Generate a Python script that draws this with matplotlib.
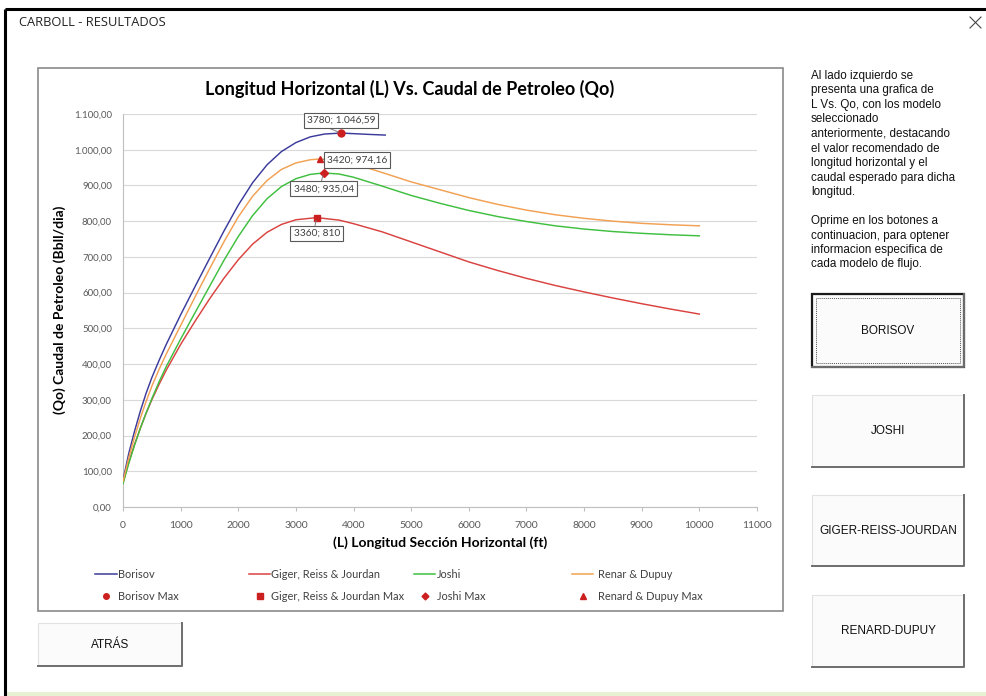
import numpy as np
import matplotlib.pyplot as plt
from matplotlib.patches import Rectangle

W, H = 986, 696

# Longitud horizontal (ft) vs caudal de petroleo (Bbl/dia) por modelo
L_bor = [0, 100, 200, 300, 400, 500, 625, 750, 1000, 1250, 1500, 1750, 2000, 2250,
         2500, 2750, 3000, 3250, 3500, 3780, 4000, 4250, 4550]
Q_bor = [75, 150, 212, 268, 318, 362, 410, 455, 538, 617, 695, 772, 845, 908,
         958, 995, 1020, 1036, 1044, 1046.59, 1045, 1043, 1041]

L_gig = [0, 100, 200, 300, 400, 500, 625, 750, 1000, 1250, 1500, 1750, 2000, 2250,
         2500, 2750, 3000, 3360, 3750, 4000, 4500, 5000, 5500, 6000, 6500,
         7000, 7500, 8000, 8500, 9000, 9500, 10000]
Q_gig = [68, 125, 175, 220, 262, 300, 343, 383, 455, 520, 582, 640, 692, 736,
         769, 791, 804, 810, 803, 793, 770, 742, 714, 686, 662,
         640, 620, 602, 585, 569, 554, 540]

L_josh = [0, 100, 200, 300, 400, 500, 625, 750, 1000, 1250, 1500, 1750, 2000, 2250,
          2500, 2750, 3000, 3250, 3480, 3750, 4000, 4500, 5000, 5500, 6000, 6500,
          7000, 7500, 8000, 8500, 9000, 9500, 10000]
Q_josh = [65, 122, 173, 220, 263, 303, 350, 393, 470, 544, 617, 690, 757, 816,
          863, 897, 919, 931, 935.04, 932, 923, 898, 872, 850, 830, 813,
          799, 787, 778, 771, 766, 762, 759]

L_ren = [0, 100, 200, 300, 400, 500, 625, 750, 1000, 1250, 1500, 1750, 2000, 2250,
         2500, 2750, 3000, 3250, 3420, 3750, 4000, 4500, 5000, 5500, 6000, 6500,
         7000, 7500, 8000, 8500, 9000, 9500, 10000]
Q_ren = [72, 138, 196, 248, 295, 338, 385, 428, 508, 588, 666, 742, 812, 870,
         914, 945, 963, 972, 974.16, 970, 961, 936, 910, 888, 866, 847,
         831, 818, 808, 800, 794, 790, 787]

# maximos de cada modelo
L_max = [3780, 3360, 3480, 3420]
Q_max = [1046.59, 810, 935.04, 974.16]

series_names = ['Borisov', 'Giger, Reiss & Jourdan', 'Joshi', 'Renar & Dupuy']
max_names = ['Borisov Max', 'Giger, Reiss & Jourdan Max', 'Joshi Max', 'Renard & Dupuy Max']
colors = ['#3b3b9c', '#d9423f', '#3fbf3f', '#f2a052']
markers = ['o', 's', 'D', '^']
red = '#cc1f1f'

descripcion = ['Al lado izquierdo se', 'presenta una grafica de', 'L Vs. Qo, con los modelo',
               'seleccionado', 'anteriormente, destacando', 'el valor recomendado de',
               'longitud horizontal y el', 'caudal esperado para dicha', 'longitud.', '',
               'Oprime en los botones a', 'continuacion, para optener',
               'informacion especifica de', 'cada modelo de flujo.']
botones = ['BORISOV', 'JOSHI', 'GIGER-REISS-JOURDAN', 'RENARD-DUPUY']

chart_font = 'Lato'
ui_font = 'Liberation Sans'


def es_num(v, dec=2):
    s = f'{v:,.{dec}f}'.replace(',', '#').replace('.', ',').replace('#', '.')
    if s.endswith(',00'):
        s = s[:-3]
    return s


def tick_fmt(v, pos):
    return f'{v:,.2f}'.replace(',', '#').replace('.', ',').replace('#', '.')


fig = plt.figure(figsize=(W / 100, H / 100), dpi=100)
fig.patch.set_facecolor('white')

# capa de la ventana en coordenadas de pixel
ui = fig.add_axes([0, 0, 1, 1], zorder=0)
ui.set_xlim(0, W)
ui.set_ylim(H, 0)
ui.axis('off')

# marco de la ventana
ui.plot([5, W], [9, 9], color='black', lw=2.2, solid_capstyle='butt')
ui.plot([5, 5], [9, H], color='black', lw=2.2, solid_capstyle='butt')
ui.add_patch(Rectangle((5, 692), W, 4, fc='#e6f2d2', ec='none'))
ui.text(19, 23, 'CARBOLL - RESULTADOS', fontsize=9.3, family='Open Sans',
        va='center', ha='left', color='#222222')
ui.plot([970, 981], [17, 28], color='#444444', lw=0.8)
ui.plot([970, 981], [28, 17], color='#444444', lw=0.8)

# area del grafico
ui.add_patch(Rectangle((38, 68), 745, 543, fc='white', ec='#8a8a8a', lw=1.2))

ax = fig.add_axes([123 / W, 1 - 507 / H, (757 - 123) / W, (507 - 114) / H], zorder=2)
ax.patch.set_alpha(0)

series_l = [L_bor, L_gig, L_josh, L_ren]
series_q = [Q_bor, Q_gig, Q_josh, Q_ren]
for L, Q, c in zip(series_l, series_q, colors):
    ax.plot(L, Q, color=c, lw=1.05, zorder=3)
for lx, qy, m in zip(L_max, Q_max, markers):
    ax.plot(lx, qy, marker=m, ms=5 if m != 'D' else 4, color=red, ls='none', zorder=4)

ax.set_xlim(0, 11000)
ax.set_ylim(0, 1100)
ax.set_xticks(np.arange(0, 11001, 1000))
ax.set_yticks(np.arange(0, 1101, 100))
ax.yaxis.set_major_formatter(plt.FuncFormatter(tick_fmt))
ax.grid(axis='y', color='#d9d9d9', lw=0.8)
ax.set_axisbelow(True)
for s in ['top', 'right']:
    ax.spines[s].set_visible(False)
ax.spines['left'].set_color('#bfbfbf')
ax.spines['bottom'].set_color('#bfbfbf')
ax.tick_params(axis='y', length=0, pad=8, labelsize=7, labelcolor='#595959')
ax.tick_params(axis='x', length=3, color='#bfbfbf', pad=7, labelsize=7.5, labelcolor='#595959')
for lab in ax.get_xticklabels() + ax.get_yticklabels():
    lab.set_family(chart_font)

# etiquetas de los maximos
label_offsets = [(0, 13), (0, -16), (0, -16), (37, -1)]
rel = [(0.2, 0.0), (0.45, 1.0), (0.45, 1.0), (0.0, 0.5)]
for lx, qy, off, rp in zip(L_max, Q_max, label_offsets, rel):
    ax.annotate(f'{lx}; {es_num(qy)}', xy=(lx, qy), xytext=off, textcoords='offset pixels',
                ha='center', va='center', fontsize=7.3, family=chart_font, color='#404040',
                bbox=dict(boxstyle='square,pad=0.3', fc='white', ec='#595959', lw=0.8),
                arrowprops=dict(arrowstyle='-', color='#7f7f7f', lw=0.7, relpos=rp,
                                shrinkA=0, shrinkB=2), zorder=5)

ui.text(410, 89, 'Longitud Horizontal (L) Vs. Caudal de Petroleo (Qo)', fontsize=13,
        family=chart_font, weight='bold', ha='center', va='center', color='black')
ui.text(60, 310, '(Qo) Caudal de Petroleo (Bbll/dia)', fontsize=10, family=chart_font,
        weight='bold', rotation=90, ha='center', va='center', color='black')
ui.text(440, 543, '(L) Longitud Sección Horizontal (ft)', fontsize=10, family=chart_font,
        weight='bold', ha='center', va='center', color='black')

# leyenda
leg_x = [(95, 117), (249, 270), (414, 435), (572, 593)]
leg_tx = [118, 271, 437, 598]
for i in range(4):
    x0, x1 = leg_x[i]
    ui.plot([x0, x1], [574, 574], color=colors[i], lw=1.1)
    ui.text(leg_tx[i], 574, series_names[i], fontsize=7.9, family=chart_font,
            color='#404040', va='center', ha='left')
    ui.plot((x0 + x1) / 2, 596, marker=markers[i], ms=4 if markers[i] != 'D' else 3.5,
            color=red, ls='none')
    ui.text(leg_tx[i], 596, max_names[i], fontsize=7.9, family=chart_font,
            color='#404040', va='center', ha='left')


def boton(x0, y0, x1, y1, texto, activo=False):
    ui.add_patch(Rectangle((x0, y0), x1 - x0, y1 - y0, fc='#fbfbfb', ec='#e2e2e2', lw=0.8))
    ui.plot([x0, x1, x1], [y1, y1, y0], color='#6e6e6e', lw=1.4)
    if activo:
        ui.add_patch(Rectangle((x0, y0), x1 - x0, y1 - y0, fc='none', ec='#1a1a1a', lw=1.6))
        ui.add_patch(Rectangle((x0 + 4, y0 + 4), x1 - x0 - 8, y1 - y0 - 8, fc='none',
                               ec='#555555', lw=0.7, ls=(0, (1, 1))))
    ui.text((x0 + x1) / 2, (y0 + y1) / 2, texto, fontsize=8.5, family=ui_font,
            ha='center', va='center', color='#111111')


boton(38, 623, 182, 666, 'ATRÁS')
for (y0, y1), t in zip([(294, 367), (395, 467), (495, 566), (595, 667)], botones):
    boton(812, y0, 964, y1, t, activo=(t == 'BORISOV'))

for i, linea in enumerate(descripcion):
    ui.text(811, 76 + i * 14.5, linea, fontsize=8.4, family=ui_font, ha='left',
            va='center', color='#111111')

fig.savefig('out.png', dpi=100, facecolor='white')
